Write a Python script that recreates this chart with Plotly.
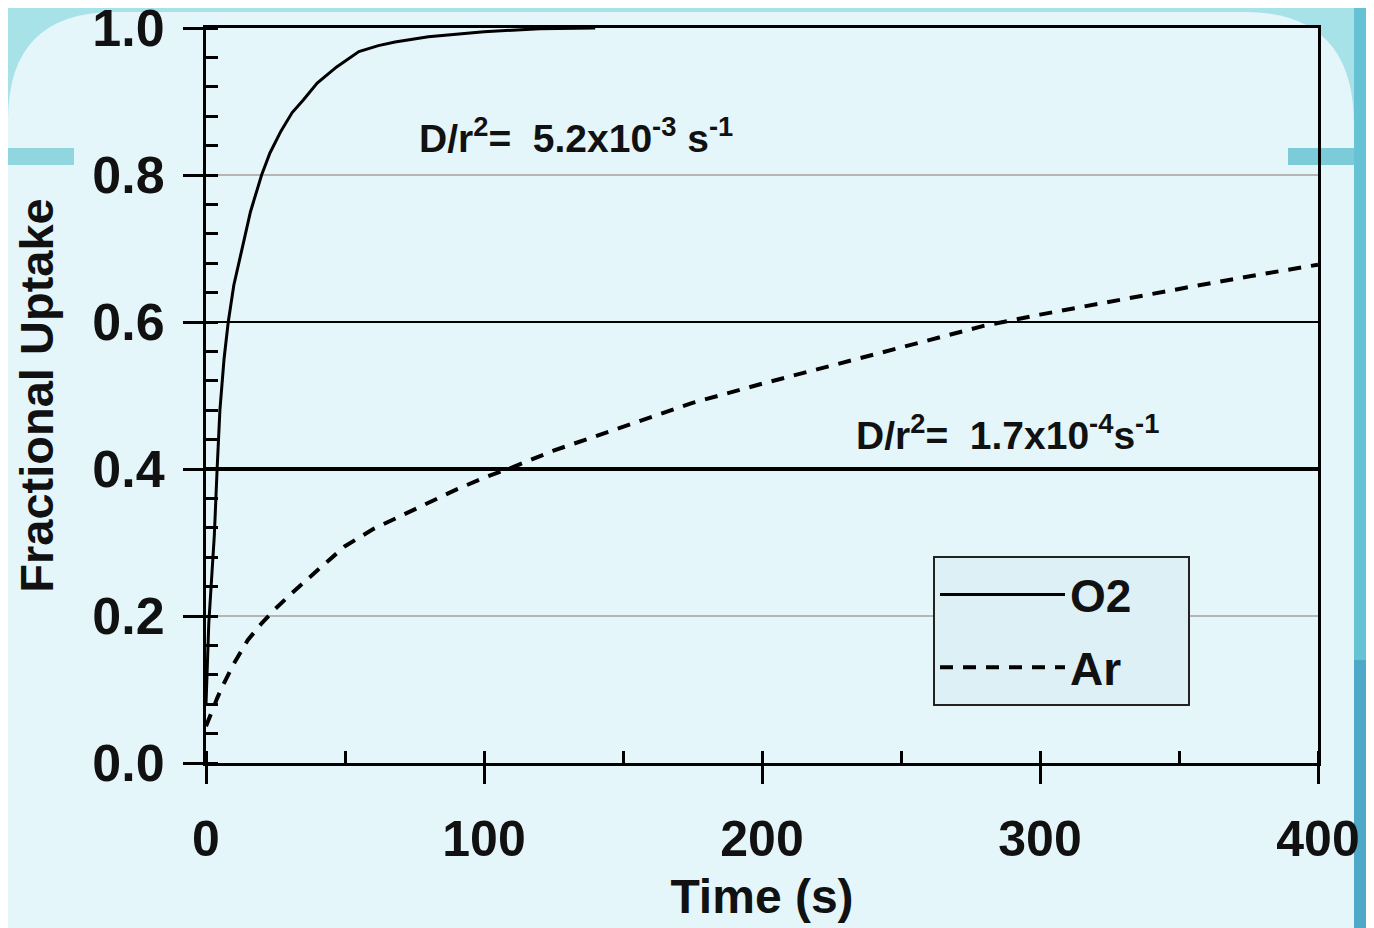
import plotly.graph_objects as go

# ---- data ----
o2_time = [0, 0.5, 1, 2, 3, 4, 5, 6.5, 8, 10, 13, 16, 20, 23, 27, 31, 35, 40, 47, 55, 62, 68, 80, 100, 120, 140]
o2_uptake = [0.08, 0.14, 0.19, 0.25, 0.31, 0.40, 0.48, 0.55, 0.60, 0.65, 0.70, 0.75, 0.80, 0.83, 0.86, 0.885,
             0.902, 0.925, 0.947, 0.968, 0.976, 0.981, 0.988, 0.995, 0.999, 1.0]

ar_time = [0, 1, 2, 4, 6, 8, 10, 15, 20, 25, 30, 40, 50, 60, 75, 90, 100, 110, 125, 150, 175, 200, 225, 250,
           280, 300, 325, 350, 375, 400]
ar_uptake = [0.05, 0.06, 0.07, 0.088, 0.105, 0.12, 0.135, 0.167, 0.19, 0.21, 0.228, 0.262, 0.295, 0.318, 0.345,
             0.372, 0.388, 0.402, 0.425, 0.458, 0.49, 0.516, 0.541, 0.565, 0.595, 0.61, 0.628, 0.645, 0.662, 0.678]

series_names = ["O2", "Ar"]
x_ticks = [0, 100, 200, 300, 400]
y_ticks = [0.0, 0.2, 0.4, 0.6, 0.8, 1.0]
dark_gridlines = [0.4, 0.6]
dark_grid_widths = [4, 2]
annotation_texts = ["D/r<sup>2</sup>=  5.2x10<sup>-3</sup> s<sup>-1</sup>",
                    "D/r<sup>2</sup>=  1.7x10<sup>-4</sup>s<sup>-1</sup>"]
annotation_x = [76, 233]
annotation_y = [0.854, 0.45]

FONT = "Liberation Sans, Arial, sans-serif"

# The page body has an 8px default margin, so the figure is drawn 8px in from the window corner.
OFF = 8
W, H = 1374 - OFF, 928 - OFF
L, T = 206 - OFF, 28 - OFF
PW, PH = 1112, 735
R, B = W - L - PW, H - T - PH


def px(xs):
    """screen x (window pixels) -> paper x"""
    return (xs - 206) / PW


def py(ys):
    """screen y (window pixels) -> paper y"""
    return (763 - ys) / PH


fig = go.Figure()
fig.add_trace(go.Scatter(x=o2_time, y=o2_uptake, mode="lines", name=series_names[0] + "    ",
                         line=dict(color="black", width=3), legendgroup="a"))
fig.add_trace(go.Scatter(x=ar_time, y=ar_uptake, mode="lines", name=series_names[1] + "    ",
                         line=dict(color="black", width=4, dash="13px,10px"), legendgroup="b"))

for yv, w in zip(dark_gridlines, dark_grid_widths):
    fig.add_hline(y=yv, line=dict(color="black", width=w), layer="above")

for txt, ax_, ay_ in zip(annotation_texts, annotation_x, annotation_y):
    fig.add_annotation(x=ax_, y=ay_, text=txt, showarrow=False, xanchor="left", yanchor="middle",
                       font=dict(family=FONT, size=39, color="#111", weight="bold"))


# ---- slide decoration (background only) ----
def prect(x0, y0, x1, y1, color):
    fig.add_shape(type="rect", xref="paper", yref="paper", x0=px(x0), y0=py(y1), x1=px(x1), y1=py(y0),
                  fillcolor=color, line=dict(width=0), layer="below")


prect(1354, 0, 1400, 660, "#66c2d4")
prect(1354, 660, 1400, 960, "#4fa8c8")
path = (f"M {px(8)},{py(960)} L {px(8)},{py(120)} Q {px(8)},{py(12)} {px(115)},{py(12)} "
        f"L {px(1245)},{py(12)} Q {px(1354)},{py(12)} {px(1354)},{py(125)} L {px(1354)},{py(960)} Z")
fig.add_shape(type="path", xref="paper", yref="paper", path=path,
              fillcolor="#e5f6fa", line=dict(width=0), layer="below")
prect(8, 148, 74, 165, "#8fd6de")
prect(1288, 148, 1354, 165, "#7ccbd8")

fig.update_layout(
    width=W, height=H,
    margin=dict(l=L, r=R, t=T, b=B, autoexpand=False),
    paper_bgcolor="#a6e2e8",
    plot_bgcolor="#e3f4f8",
    showlegend=True,
    legend=dict(x=px(933), y=py(556), xanchor="left", yanchor="top",
                bgcolor="#dcf0f6", bordercolor="#222", borderwidth=2,
                font=dict(family=FONT, size=46, color="#111", weight="bold"),
                itemwidth=125, tracegroupgap=10),
    font=dict(family=FONT, color="#111"),
)

fig.update_xaxes(
    range=[0, 400], tickvals=x_ticks, ticktext=[str(v) for v in x_ticks],
    automargin=False, ticklabeloverflow="allow",
    showline=True, linecolor="black", linewidth=3, mirror=True,
    ticks="outside", ticklen=18, tickwidth=3, tickcolor="black",
    minor=dict(dtick=50, ticks="inside", ticklen=12, tickwidth=3, tickcolor="black"),
    showgrid=False, zeroline=False,
    tickfont=dict(family=FONT, size=50, color="#111", weight="bold"),
    ticklabelstandoff=12,
    title=dict(text="Time (s)", font=dict(family=FONT, size=48, color="#111", weight="bold"), standoff=14),
)
fig.update_yaxes(
    range=[0, 1.0], tickvals=y_ticks, ticktext=[f"{v:.1f}" for v in y_ticks],
    automargin=False, ticklabeloverflow="allow",
    showline=True, linecolor="black", linewidth=3, mirror=True,
    ticks="outside", ticklen=20, tickwidth=3, tickcolor="black",
    minor=dict(dtick=0.04, ticks="inside", ticklen=12, tickwidth=3, tickcolor="black"),
    showgrid=True, gridcolor="#b5b5b5", gridwidth=2, zeroline=False,
    tickfont=dict(family=FONT, size=52, color="#111", weight="bold"),
    ticklabelstandoff=8,
    title=dict(text="Fractional Uptake", font=dict(family=FONT, size=47, color="#111", weight="bold"), standoff=24),
)

fig.write_html("out.html")
